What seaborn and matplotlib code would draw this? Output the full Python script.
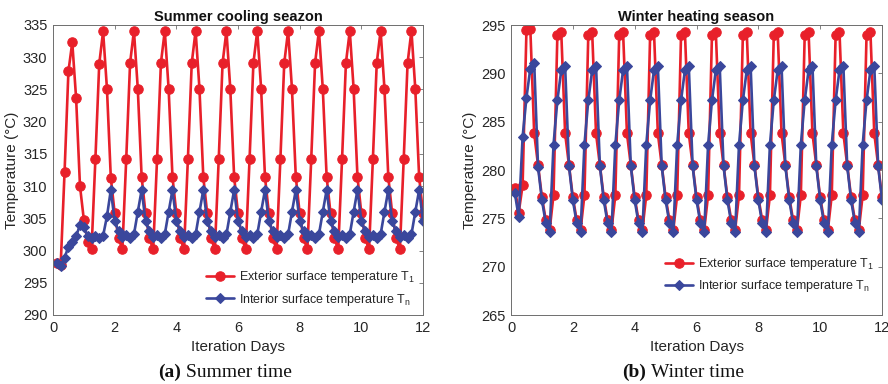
import numpy as np
import pandas as pd
import matplotlib
matplotlib.use("Agg")
import matplotlib.pyplot as plt
import seaborn as sns

# ---------------- data (3-hour steps, 8 per day, days 0.125 .. 12.0) ----------------
steps_per_day = 8
n_days = 12

summer_exterior = [
    298.0, 297.8, 312.2, 327.8, 332.3, 323.6, 310.0, 304.8,
    301.3, 300.2, 314.2, 329.0, 334.0, 325.1, 311.3, 305.8,
    301.9, 300.2, 314.2, 329.1, 334.1, 325.1, 311.4, 305.8,
    301.9, 300.2, 314.2, 329.1, 334.1, 325.1, 311.4, 305.8,
    301.9, 300.2, 314.2, 329.1, 334.1, 325.1, 311.4, 305.8,
    301.9, 300.2, 314.2, 329.1, 334.1, 325.1, 311.4, 305.8,
    301.9, 300.2, 314.2, 329.1, 334.1, 325.1, 311.4, 305.8,
    301.9, 300.2, 314.2, 329.1, 334.1, 325.1, 311.4, 305.8,
    301.9, 300.2, 314.2, 329.1, 334.1, 325.1, 311.4, 305.8,
    301.9, 300.2, 314.2, 329.1, 334.1, 325.1, 311.4, 305.8,
    301.9, 300.2, 314.2, 329.1, 334.1, 325.1, 311.4, 305.8,
    301.9, 300.2, 314.2, 329.1, 334.1, 325.1, 311.4, 305.8,
]
summer_interior = [
    298.0, 297.6, 298.9, 300.6, 301.3, 302.2, 304.0, 303.6,
    302.3, 302.0, 302.2, 301.9, 302.3, 305.3, 309.4, 304.6,
    303.0, 302.1, 302.4, 301.9, 302.5, 306.0, 309.4, 304.6,
    303.0, 302.1, 302.4, 301.9, 302.5, 306.0, 309.4, 304.6,
    303.0, 302.1, 302.4, 301.9, 302.5, 306.0, 309.4, 304.6,
    303.0, 302.1, 302.4, 301.9, 302.5, 306.0, 309.4, 304.6,
    303.0, 302.1, 302.4, 301.9, 302.5, 306.0, 309.4, 304.6,
    303.0, 302.1, 302.4, 301.9, 302.5, 306.0, 309.4, 304.6,
    303.0, 302.1, 302.4, 301.9, 302.5, 306.0, 309.4, 304.6,
    303.0, 302.1, 302.4, 301.9, 302.5, 306.0, 309.4, 304.6,
    303.0, 302.1, 302.4, 301.9, 302.5, 306.0, 309.4, 304.6,
    303.0, 302.1, 302.4, 301.9, 302.5, 306.0, 309.4, 304.6,
]
winter_exterior = [
    278.1, 275.6, 278.4, 294.5, 294.6, 283.8, 280.5, 277.2,
    274.8, 273.8, 277.4, 294.0, 294.3, 283.8, 280.5, 277.2,
    274.8, 273.8, 277.4, 294.0, 294.3, 283.8, 280.5, 277.2,
    274.8, 273.8, 277.4, 294.0, 294.3, 283.8, 280.5, 277.2,
    274.8, 273.8, 277.4, 294.0, 294.3, 283.8, 280.5, 277.2,
    274.8, 273.8, 277.4, 294.0, 294.3, 283.8, 280.5, 277.2,
    274.8, 273.8, 277.4, 294.0, 294.3, 283.8, 280.5, 277.2,
    274.8, 273.8, 277.4, 294.0, 294.3, 283.8, 280.5, 277.2,
    274.8, 273.8, 277.4, 294.0, 294.3, 283.8, 280.5, 277.2,
    274.8, 273.8, 277.4, 294.0, 294.3, 283.8, 280.5, 277.2,
    274.8, 273.8, 277.4, 294.0, 294.3, 283.8, 280.5, 277.2,
    274.8, 273.8, 277.4, 294.0, 294.3, 283.8, 280.5, 277.2,
]
winter_interior = [
    277.6, 275.1, 283.4, 287.5, 290.5, 291.1, 280.3, 276.9,
    274.5, 273.6, 282.6, 287.2, 290.3, 290.8, 280.4, 276.9,
    274.5, 273.6, 282.6, 287.2, 290.3, 290.8, 280.4, 276.9,
    274.5, 273.6, 282.6, 287.2, 290.3, 290.8, 280.4, 276.9,
    274.5, 273.6, 282.6, 287.2, 290.3, 290.8, 280.4, 276.9,
    274.5, 273.6, 282.6, 287.2, 290.3, 290.8, 280.4, 276.9,
    274.5, 273.6, 282.6, 287.2, 290.3, 290.8, 280.4, 276.9,
    274.5, 273.6, 282.6, 287.2, 290.3, 290.8, 280.4, 276.9,
    274.5, 273.6, 282.6, 287.2, 290.3, 290.8, 280.4, 276.9,
    274.5, 273.6, 282.6, 287.2, 290.3, 290.8, 280.4, 276.9,
    274.5, 273.6, 282.6, 287.2, 290.3, 290.8, 280.4, 276.9,
    274.5, 273.6, 282.6, 287.2, 290.3, 290.8, 280.4, 276.9,
]

days = np.arange(1, steps_per_day * n_days + 1) / steps_per_day

titles = ["Summer cooling seazon", "Winter heating season"]
captions = [("(a)", "Summer time"), ("(b)", "Winter time")]
legend_labels = ["Exterior surface temperature T$_1$", "Interior surface temperature T$_n$"]
x_ticks = [0, 2, 4, 6, 8, 10, 12]
summer_yticks = [290, 295, 300, 305, 310, 315, 320, 325, 330, 335]
winter_yticks = [265, 270, 275, 280, 285, 290, 295]

# ---------------- styling ----------------
sns.set_style("white")
plt.rcParams["font.family"] = ["Liberation Sans", "DejaVu Sans"]
plt.rcParams["mathtext.fontset"] = "custom"
plt.rcParams["mathtext.rm"] = "Liberation Sans"
plt.rcParams["mathtext.it"] = "Liberation Sans"

RED = "#E8202A"
BLUE = "#3A479C"
TXT = "#262626"
BOX = "#6e6e6e"

fig = plt.figure(figsize=(8.88, 3.84), dpi=100)
ax1 = fig.add_axes([53 / 888, 69 / 384, 370 / 888, 290 / 384])
ax2 = fig.add_axes([511 / 888, 69 / 384, 371 / 888, 290 / 384])

panels = [
    (ax1, summer_exterior, summer_interior, summer_yticks, 0.0),
    (ax2, winter_exterior, winter_interior, winter_yticks, 0.045),
]

for i, (ax, ext, inte, yt, leg_y) in enumerate(panels):
    df = pd.DataFrame({"day": days, "ext": ext, "int": inte})
    sns.lineplot(data=df, x="day", y="ext", ax=ax, color=RED, marker="o",
                 markersize=6.8, markeredgecolor=RED, linewidth=1.9,
                 label=legend_labels[0])
    sns.lineplot(data=df, x="day", y="int", ax=ax, color=BLUE, marker="D",
                 markersize=5.4, markeredgecolor=BLUE, linewidth=1.9,
                 label=legend_labels[1])
    ax.set_xlim(0, 12)
    ax.set_ylim(yt[0], yt[-1])
    ax.set_xticks(x_ticks)
    ax.set_yticks(yt)
    ax.tick_params(direction="in", top=True, right=True, length=3, width=0.6,
                   color=BOX, labelsize=10.5, labelcolor=TXT, pad=4)
    for s in ax.spines.values():
        s.set_color(BOX)
        s.set_linewidth(0.7)
    ax.set_xlabel("Iteration Days", fontsize=11, color=TXT, labelpad=4)
    ax.set_ylabel("Temperature (°C)", fontsize=11, color=TXT, labelpad=3)
    ax.set_title(titles[i], fontsize=10.5, fontweight="bold", color="#111111", pad=3)
    leg = ax.legend(loc="lower right", bbox_to_anchor=(1.0, leg_y), frameon=False,
                    fontsize=9.0, handlelength=2.3, handletextpad=0.4,
                    labelspacing=0.5, borderaxespad=0.2)
    for t in leg.get_texts():
        t.set_color(TXT)

# captions
for cx, (lab, txt) in zip([212 / 888, 677 / 888], captions):
    fig.text(cx - 0.035, 7 / 384, lab, ha="right", va="baseline", fontsize=14,
             fontweight="bold", family=["Liberation Serif", "DejaVu Serif"], color="#111111")
    fig.text(cx - 0.029, 7 / 384, txt, ha="left", va="baseline", fontsize=14,
             family=["Liberation Serif", "DejaVu Serif"], color="#111111")

fig.savefig("out.png", dpi=100)
